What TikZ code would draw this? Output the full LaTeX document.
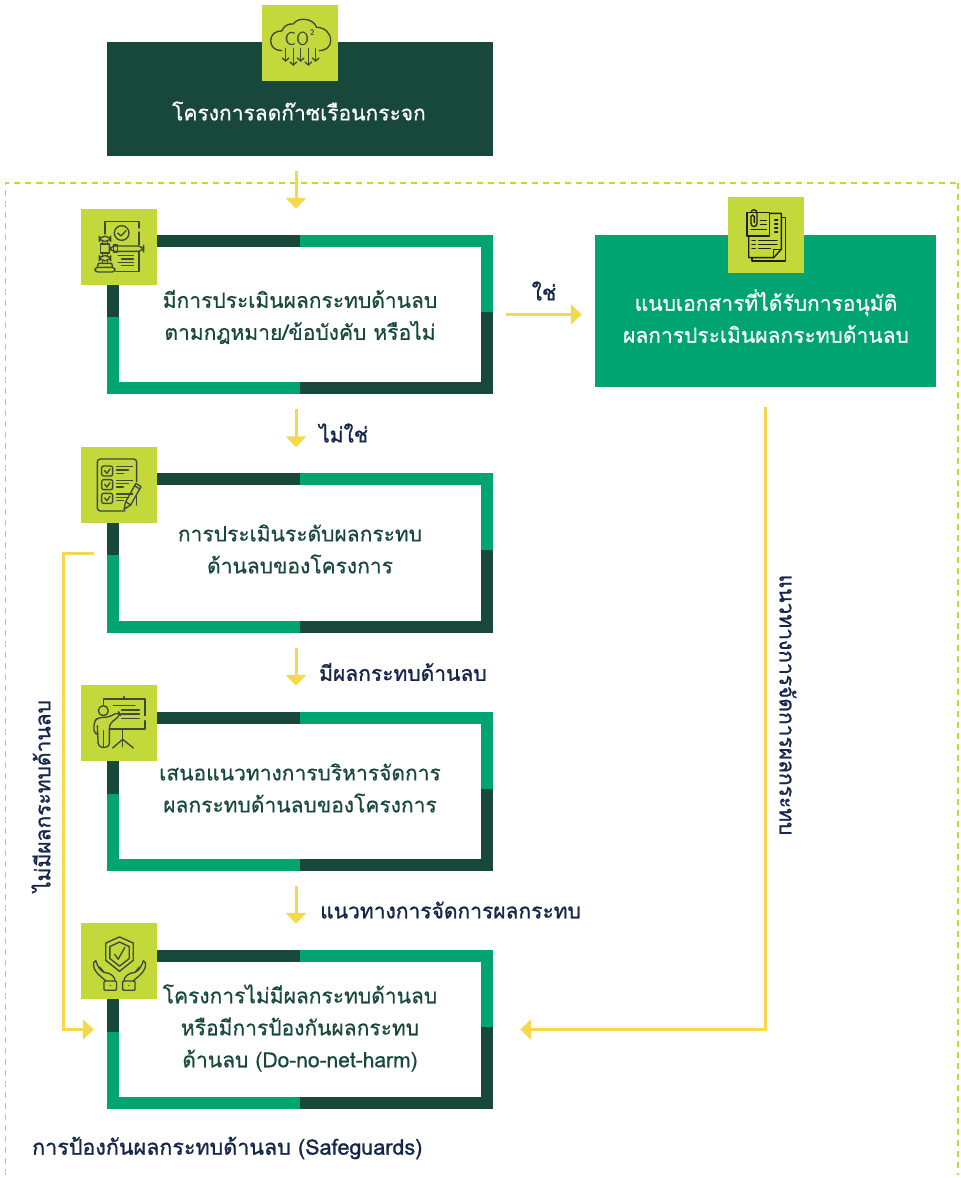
\documentclass[tikz,border=0pt]{standalone}
\usepackage{fontspec}
\usetikzlibrary{arrows.meta,calc}
\newfontfamily\thaif[Script=Thai,FakeBold=0.5]{Loma}
\newfontfamily\thaib[Script=Thai,FakeBold=1.1]{Loma}
\definecolor{dk}{HTML}{18483C}
\definecolor{gr}{HTML}{00A470}
\definecolor{lime}{HTML}{C3D93B}
\definecolor{ye}{HTML}{F5D94C}
\definecolor{icc}{HTML}{3D4A3C}
\definecolor{nv}{HTML}{16264A}
\tikzset{
  boxtext/.style={font=\thaif\fontsize{21}{32}\selectfont,text=dk,align=center,inner sep=0pt},
  whitetext/.style={boxtext,text=white},
  lab/.style={font=\thaib\fontsize{21}{24}\selectfont,text=nv,inner sep=0pt},
  flow/.style={ye,line width=3pt,-{Triangle[width=20pt,length=11pt]}},
  iconbg/.style={fill=lime,draw=none,minimum width=76pt,minimum height=76pt,inner sep=0pt},
  framed/.style={minimum width=386pt,minimum height=159pt,inner sep=0pt},
  icl/.style={draw=icc,line width=1.35pt,line cap=round,line join=round,fill=none},
  icb/.style={icl,draw=black!85!lime},
}
\newcommand{\gfr}[1]{%
  \fill[dk] (#1.north west) rectangle ($(#1.north)+(0,12)$);
  \fill[gr] (#1.north) rectangle ($(#1.north east)+(0,12)$);
  \fill[dk] (#1.north west) rectangle ($(#1.north west)+(12,82)$);
  \fill[gr] ($(#1.north west)+(0,82)$) rectangle ($(#1.south west)+(12,0)$);
  \fill[gr] ($(#1.south west)+(0,-12)$) rectangle (#1.south);
  \fill[dk] ($(#1.south)+(0,-12)$) rectangle (#1.south east);
  \fill[gr] ($(#1.north east)+(-12,0)$) rectangle ($(#1.north east)+(0,77)$);
  \fill[dk] ($(#1.north east)+(-12,77)$) rectangle (#1.south east);
}
\begin{document}
\begin{tikzpicture}[x=1pt,y=-1pt]
\useasboundingbox (0,0) rectangle (961,1178);
\fill[white] (0,0) rectangle (961,1178);
\draw[lime,line width=1.5pt,dash pattern=on 6pt off 5pt] (5.5,1175)--(5.5,183)--(958,183);
\draw[lime,line width=2.2pt,dash pattern=on 6pt off 5pt] (958,183)--(958,1175);

% boxes
\node[fill=dk,minimum width=386pt,minimum height=114pt,inner sep=0pt] (top) at (300,99) {};
\node[fill=gr,minimum width=341pt,minimum height=152pt,inner sep=0pt] (appr) at (765.5,311) {};
\node[framed] (b1) at (300,314.5) {};
\node[framed] (b2) at (300,553) {};
\node[framed] (b3) at (300,791.5) {};
\node[framed] (b4) at (300,1029.5) {};
\gfr{b1}\gfr{b2}\gfr{b3}\gfr{b4}

% texts
\node[whitetext] (ttop) at (299,111) {โครงการลดก๊าซเรือนกระจก};
\node[whitetext] (tappr) at (766,316) {แนบเอกสารที่ได้รับการอนุมัติ\\ผลการประเมินผลกระทบด้านลบ};
\node[boxtext] (t1) at (300,317) {มีการประเมินผลกระทบด้านลบ\\ตามกฎหมาย/ข้อบังคับ หรือไม่};
\node[boxtext] (t2) at (300,549) {การประเมินระดับผลกระทบ\\ด้านลบของโครงการ};
\node[boxtext] (t3) at (300,788) {เสนอแนวทางการบริหารจัดการ\\ผลกระทบด้านลบของโครงการ};
\node[boxtext] (t4) at (300,1028) {โครงการไม่มีผลกระทบด้านลบ\\หรือมีการป้องกันผลกระทบ\\ด้านลบ (Do-no-net-harm)};

% connectors
\coordinate (ax) at (296,0);
\coordinate (lx) at (63,0);
\draw[flow,shorten <=15pt,shorten >=26pt] (top.south -| ax) -- (b1.north -| ax);
\draw[flow,shorten <=15pt,shorten >=26pt] (b1.south -| ax) -- (b2.north -| ax);
\draw[flow,shorten <=15pt,shorten >=26pt] (b2.south -| ax) -- (b3.north -| ax);
\draw[flow,shorten <=15pt,shorten >=26pt] (b3.south -| ax) -- (b4.north -| ax);
\draw[flow,shorten <=13pt,shorten >=13pt] (b1.east) -- (appr.west |- b1.east);
\draw[flow,shorten <=20pt,shorten >=27pt] (appr.south) |- (b4.east);
\draw[flow,shorten <=13pt,shorten >=13pt] (b2.west) -- (b2.west -| lx) -- (b4.west -| lx) -- (b4.west);

% labels
\node[lab] (lyes) at (544,291) {ใช่};
\node[lab,anchor=west] (lno) at (319,433) {ไม่ใช่};
\node[lab,anchor=west] (lneg) at (319,672) {มีผลกระทบด้านลบ};
\node[lab,anchor=west] (lmgmt) at (320,910) {แนวทางการจัดการผลกระทบ};
\node[lab,rotate=-90] (lright) at (788,705) {แนวทางการจัดการผลกระทบ};
\node[lab,rotate=90] (lleft) at (41,796) {ไม่มีผลกระทบด้านลบ};
\node[lab,anchor=west,font=\thaib\fontsize{21.5}{24}\selectfont] (lsafe) at (32,1148) {การป้องกันผลกระทบด้านลบ (Safeguards)};

% icon squares
\node[iconbg] (ic0) at (300,43) {};
\node[iconbg] (ic1) at (119,247) {};
\node[iconbg] (ica) at (766,235) {};
\node[iconbg] (ic2) at (119,485) {};
\node[iconbg] (ic3) at (119,723) {};
\node[iconbg] (ic4) at (119,961) {};

% CO2 cloud
\begin{scope}[shift={(60,0)},scale=1/3]
\draw[icl] (665,152) .. controls (645,152) and (632,140) .. (632,122)
  .. controls (632,103) and (648,92) .. (665,93)
  .. controls (672,78) and (685,70) .. (700,72)
  .. controls (708,60) and (720,58) .. (732,58)
  .. controls (750,58) and (765,68) .. (770,82)
  .. controls (795,82) and (812,100) .. (812,122)
  .. controls (812,140) and (797,152) .. (778,152);
\foreach \xx/\yy in {677/183,700/195,722/183,745/195,767/183}{
  \draw[icl] (\xx,145) -- (\xx,\yy);
  \draw[icl] (\xx-10,\yy-9) -- (\xx,\yy) -- (\xx+10,\yy-9);
}
\node[font=\sffamily\fontsize{19}{20}\selectfont,text=icc,inner sep=0pt] (co2) at (711,116) {CO};
\node[font=\sffamily\bfseries\fontsize{8}{9}\selectfont,text=icc,inner sep=0pt] (co2sup) at (757,97) {2};
\end{scope}

% gavel
\begin{scope}[shift={(80,208)},scale=1/3]
\draw[icl] (75,78)--(75,40)--(177,40)--(177,60);
\draw[icl] (177,72)--(177,110);
\draw[icl] (177,132)--(177,190)--(108,190);
\draw[icl] (125,75) circle (22);
\draw[icl] (113,75)--(123,84)--(138,68);
\draw[icl,rounded corners=5pt] (58,85) rectangle (92,100);
\draw[icl,rounded corners=5pt] (58,143) rectangle (92,158);
\draw[icl] (62,108) rectangle (88,135);
\draw[icl] (68,100)--(68,108) (82,100)--(82,108) (68,135)--(68,143) (82,135)--(82,143);
\draw[icl,rounded corners=6pt] (88,114) rectangle (191,130);
\draw[icl] (100,111) rectangle (112,132);
\draw[icl] (68,158)--(68,166) (82,158)--(82,166);
\draw[icl] (52,178)--(55,166)--(95,166)--(98,178);
\draw[icl,rounded corners=3pt] (45,178) rectangle (105,192);
\draw[icl] (115,143)--(160,143) (125,153)--(160,153) (115,163)--(160,163) (125,173)--(160,173);
\end{scope}

% documents
\begin{scope}[shift={(727,196)},scale=1/3]
\draw[icb] (130,52)--(163,52)--(163,160)--(140,185)--(65,185)--(65,120);
\draw[icb] (163,65)--(175,65)--(175,195)--(75,195)--(75,185);
\draw[icb] (140,185)--(140,160)--(163,160);
\draw[icb] (60,50)--(128,50)--(128,120)--(60,120)--cycle;
\draw[icb] (72,50) .. controls (72,38) and (90,38) .. (90,52) -- (90,82) .. controls (90,95) and (72,95) .. (72,82) -- (72,62) .. controls (72,55) and (82,55) .. (82,62) -- (82,80);
\draw[icb] (100,73)--(118,73) (100,85)--(118,85) (72,100)--(118,100);
\draw[icb] (143,72)--(152,72) (143,84)--(152,84) (143,96)--(152,96) (143,108)--(152,108);
\draw[icb] (75,133)--(85,133) (95,133)--(150,133) (75,145)--(85,145) (95,145)--(150,145) (75,157)--(85,157) (95,157)--(130,157);
\end{scope}

% checklist
\begin{scope}[shift={(60,440)},scale=1/3]
\draw[icl,rounded corners=3pt] (195,213)--(112,213)--(112,57)--(230,57)--(230,125);
\draw[icl] (230,170)--(230,195);
\foreach \dy in {0,41,82}{
  \draw[icl,rounded corners=2pt] (125,78+\dy) rectangle (158,108+\dy);
  \draw[icl] (134,92+\dy)--(141,100+\dy)--(150,87+\dy);
  \draw[icl] (170,80+\dy)--(218,80+\dy) (170,90+\dy)--(205,90+\dy) (170,100+\dy)--(190,100+\dy);
}
\draw[icl] (192,208)--(197,185)--(228,130)--(243,140)--(212,195)--cycle;
\draw[icl] (197,185)--(212,195) (224,137)--(239,147);
\end{scope}

% presenter
\begin{scope}[shift={(80,684)},scale=1/3]
\draw[icl] (70,62)--(70,45)--(195,45)--(195,95);
\draw[icl] (195,110)--(195,135)--(90,135);
\draw[icl] (132,38)--(132,45);
\draw[icl] (128,135)--(128,188);
\draw[icl] (128,166)--(98,192) (128,166)--(160,192);
\draw[icl] (100,65)--(165,65) (125,78)--(178,78) (125,90)--(178,90) (125,103)--(178,103);
\draw[icl] (70,80) circle (15);
\draw[icl,rounded corners=4pt] (48,150)--(42,150)--(42,112)--(55,100)--(85,100)--(116,84)--(122,93)--(88,120)--(88,190)--(55,190)--(52,125);
\draw[icl] (70,140)--(70,190);
\end{scope}

% shield with hands
\begin{scope}[shift={(0,900)},scale=0.3445]
\draw[icl] (347,107)--(387,125)--(387,175)--(347,207)--(307,175)--(307,125)--cycle;
\draw[icl] (347,122)--(375,135)--(375,170)--(347,192)--(319,170)--(319,135)--cycle;
\draw[icl] (333,158)--(343,172)--(362,138);
\foreach \s/\o in {1/0,-1/694}{
  \begin{scope}[shift={(\o,0)},xscale=\s]
  \draw[icl,rounded corners=1pt] (302,235) rectangle (338,262);
  \draw[icl] (320,248)--(321,248);
  \draw[icl] (308,235) .. controls (290,220) and (268,205) .. (272,182) -- (278,176) .. controls (282,190) and (290,205) .. (302,210) -- (290,195);
  \draw[icl] (302,210) .. controls (322,212) and (334,222) .. (334,235);
  \end{scope}
}
\end{scope}
\end{tikzpicture}
\end{document}
